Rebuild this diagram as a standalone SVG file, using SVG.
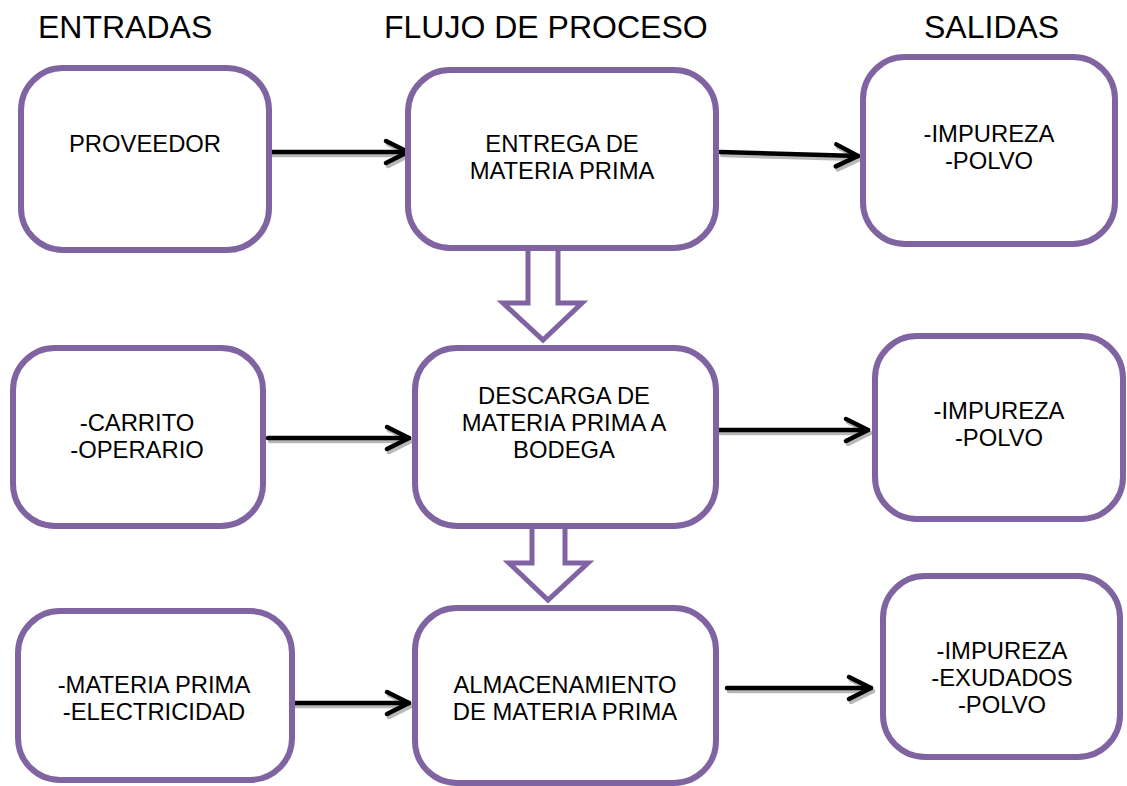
<svg xmlns="http://www.w3.org/2000/svg" width="1127" height="786" viewBox="0 0 1127 786">
<style>
.box{fill:#fff;stroke:#8064A2;stroke-width:6}
.hol{fill:#fff;stroke:#8064A2;stroke-width:5;stroke-linejoin:miter}
.t{font-family:"Liberation Sans",Arial,sans-serif;font-size:23.8px;fill:#000;text-anchor:middle}
.h{font-family:"Liberation Sans",Arial,sans-serif;font-size:32px;fill:#000}
.ln{fill:none;stroke:#000;stroke-width:4.5;stroke-linecap:round}
.sh{fill:none;stroke:#b8b8b8;stroke-width:4.5;stroke-linecap:round}
</style>
<defs>
<marker id="ah" markerUnits="userSpaceOnUse" markerWidth="34" markerHeight="34" refX="26" refY="15" orient="auto" viewBox="0 0 34 30">
<path d="M4 4 L26 15 L4 26" fill="none" stroke="#000" stroke-width="4.5" stroke-linecap="round" stroke-linejoin="round"/>
</marker>
<marker id="ahs" markerUnits="userSpaceOnUse" markerWidth="34" markerHeight="34" refX="26" refY="15" orient="auto" viewBox="0 0 34 30">
<path d="M4 4 L26 15 L4 26" fill="none" stroke="#b8b8b8" stroke-width="4.5" stroke-linecap="round" stroke-linejoin="round"/>
</marker>
</defs>
<rect width="1127" height="786" fill="#fff"/>
<g id="headers">
<text class="h" x="38" y="38">ENTRADAS</text>
<text class="h" x="384" y="38">FLUJO DE PROCESO</text>
<text class="h" x="924" y="38">SALIDAS</text>
</g>
<g id="connectors">
<polygon class="hol" points="528,246 528,303 503,303 543,340 582,303 558,303 558,246"/>
<polygon class="hol" points="532,526 532,563 509,563 548,600 588,563 565,563 565,526"/>
<g transform="translate(2,3)">
<path class="sh" d="M270 152 L408 152" marker-end="url(#ahs)"/>
<path class="sh" d="M720 152 L858 156" marker-end="url(#ahs)"/>
<path class="sh" d="M268 438 L409 438" marker-end="url(#ahs)"/>
<path class="sh" d="M718 430 L868 430" marker-end="url(#ahs)"/>
<path class="sh" d="M287 703 L409 703" marker-end="url(#ahs)"/>
<path class="sh" d="M727 688 L871 688" marker-end="url(#ahs)"/>
</g>
<path class="ln" d="M270 152 L408 152" marker-end="url(#ah)"/>
<path class="ln" d="M720 152 L858 156" marker-end="url(#ah)"/>
<path class="ln" d="M268 438 L409 438" marker-end="url(#ah)"/>
<path class="ln" d="M718 430 L868 430" marker-end="url(#ah)"/>
<path class="ln" d="M287 703 L409 703" marker-end="url(#ah)"/>
<path class="ln" d="M727 688 L871 688" marker-end="url(#ah)"/>
</g>
<g id="proveedor"><rect class="box" x="21" y="68" width="248" height="182" rx="42"/><text class="t" x="145" y="152">PROVEEDOR</text></g>
<g id="entrega"><rect class="box" x="408" y="70" width="308" height="178" rx="42"/><text class="t" x="562" y="152">ENTREGA DE</text><text class="t" x="562" y="179">MATERIA PRIMA</text></g>
<g id="salida1"><rect class="box" x="863" y="57" width="252" height="187" rx="42"/><text class="t" x="989" y="142">-IMPUREZA</text><text class="t" x="989" y="169">-POLVO</text></g>
<g id="carrito"><rect class="box" x="13" y="348" width="250" height="178" rx="42"/><text class="t" x="137" y="431">-CARRITO</text><text class="t" x="137" y="458">-OPERARIO</text></g>
<g id="descarga"><rect class="box" x="415" y="348" width="301" height="178" rx="42"/><text class="t" x="564" y="404">DESCARGA DE</text><text class="t" x="564" y="431">MATERIA PRIMA A</text><text class="t" x="564" y="458">BODEGA</text></g>
<g id="salida2"><rect class="box" x="875" y="336" width="248" height="183" rx="42"/><text class="t" x="999" y="419">-IMPUREZA</text><text class="t" x="999" y="446">-POLVO</text></g>
<g id="materia"><rect class="box" x="18" y="611" width="274" height="169" rx="42"/><text class="t" x="154" y="693">-MATERIA PRIMA</text><text class="t" x="154" y="720">-ELECTRICIDAD</text></g>
<g id="almacenamiento"><rect class="box" x="415" y="608" width="301" height="175" rx="42"/><text class="t" x="565" y="693">ALMACENAMIENTO</text><text class="t" x="565" y="720">DE MATERIA PRIMA</text></g>
<g id="salida3"><rect class="box" x="883" y="576" width="237" height="181" rx="42"/><text class="t" x="1002" y="659">-IMPUREZA</text><text class="t" x="1002" y="686">-EXUDADOS</text><text class="t" x="1002" y="713">-POLVO</text></g>
</svg>
